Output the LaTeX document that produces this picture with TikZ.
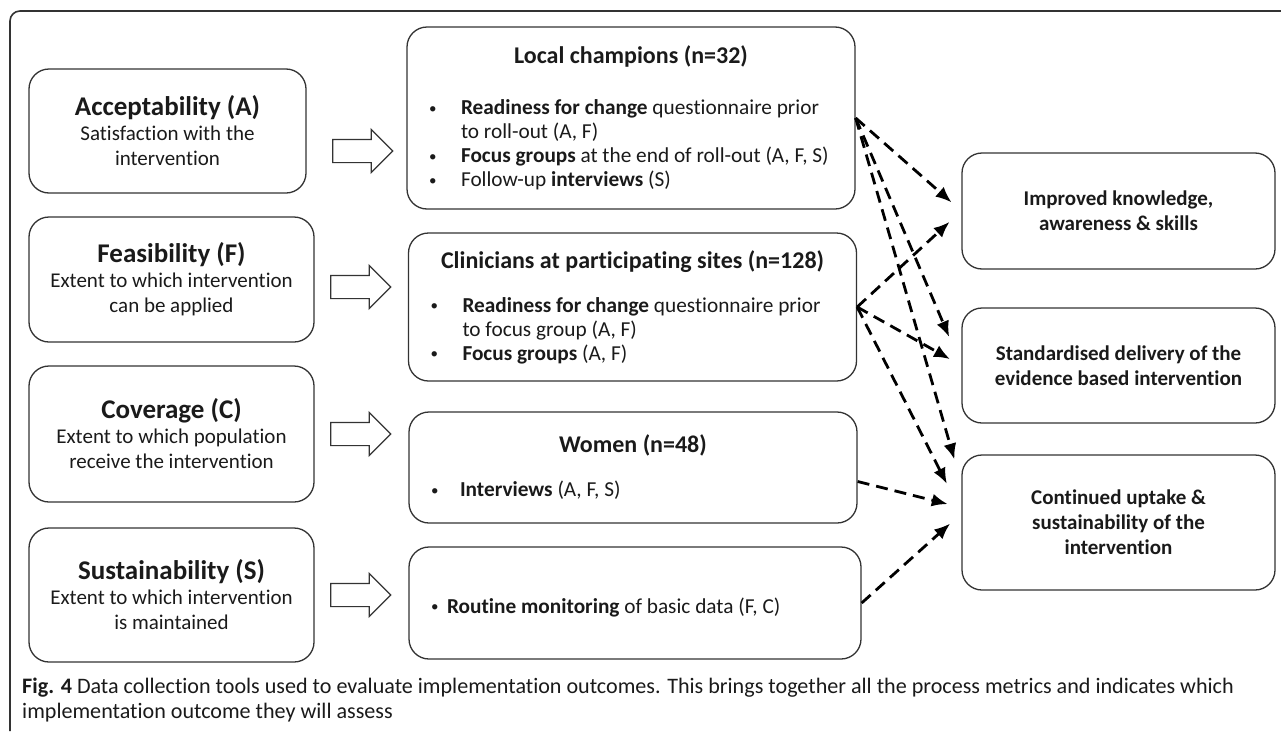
\documentclass[tikz,border=0pt]{standalone}
\usepackage{fontspec}
\setmainfont{Carlito}[RawFeature={-liga;-clig;-calt}]
\usetikzlibrary{shapes,arrows.meta}
\definecolor{boxgray}{HTML}{333333}
\definecolor{inkgray}{HTML}{1A1A1A}
\newcommand\bul[2][32pt]{\par\noindent\hangindent=#1\hangafter=1\makebox[#1][l]{\raisebox{1.5pt}{\fontsize{15}{15}\selectfont\textbullet}}#2}
\tikzset{
    outcome/.style = {draw=boxgray, line width=1.3pt, rounded corners=20pt, minimum width=285pt, align=center, inner sep=0pt, font=\fontsize{21}{25}\selectfont},
    group/.style = {draw=boxgray, line width=1.3pt, rounded corners=20pt, text width=404pt, inner xsep=22pt, inner ysep=0pt, align=flush left, font=\fontsize{21.3}{24}\selectfont},
    result/.style = {draw=boxgray, line width=1.3pt, rounded corners=20pt, minimum width=313pt, align=center, inner sep=0pt, font=\fontsize{21}{25}\selectfont\bfseries},
    fat/.style = {draw=boxgray, line width=1.2pt, single arrow, single arrow head extend=10pt, minimum height=60pt, inner xsep=0pt, inner ysep=11pt},
    link/.style = {-{Latex[length=16pt,width=13pt]}, line width=2.8pt, dash pattern=on 12pt off 7pt},
    frame/.style = {draw=boxgray, line width=1.6pt, rounded corners=10pt},
}

\begin{document}
\begin{tikzpicture}[x=1pt, y=-1pt, text=inkgray]
    \useasboundingbox (0,0) rectangle (1281,731);
    \draw[frame] (10,731) -- (10,11) -- (1281,11);

    % implementation outcomes
    \node[outcome, minimum width=277pt, minimum height=124pt] (accept) at (167.5,131) {{\fontsize{27}{27}\selectfont\bfseries Acceptability (A)}\\Satisfaction with the\\intervention};
    \node[outcome, minimum height=125pt] (feas) at (171.5,279.5) {{\fontsize{27}{27}\selectfont\bfseries Feasibility (F)}\\Extent to which intervention\\can be applied};
    \node[outcome, minimum height=136pt] (cover) at (171.5,434) {{\fontsize{27}{27}\selectfont\bfseries Coverage (C)}\\Extent to which population\\receive the intervention};
    \node[outcome, minimum height=134pt] (sustain) at (171.5,595) {{\fontsize{27}{27}\selectfont\bfseries Sustainability (S)}\\Extent to which intervention\\is maintained};

    \node[fat] (arr-a) at (357,151) {};
    \node[fat] (arr-f) at (355,287) {};
    \node[fat] (arr-c) at (355,434) {};
    \node[fat] (arr-s) at (355,595) {};

    % data collection
    \node[group, minimum height=182pt] (champ) at (631,118) {{\centering\fontsize{24}{25}\selectfont\bfseries Local champions (n=32)\par}\vspace{27pt}
        \bul{\textbf{Readiness for change} questionnaire prior\newline to roll-out (A, F)}
        \bul{\textbf{Focus groups} at the end of roll-out (A, F, S)}
        \bul{Follow-up \textbf{interviews} (S)}\par};
    \node[group, minimum height=148pt] (clin) at (632.5,307) {{\centering\fontsize{24}{25}\selectfont\bfseries Clinicians at participating sites (n=128)\par}\vspace{20pt}
        \bul{\textbf{Readiness for change} questionnaire prior\newline to focus group (A, F)}
        \bul{\textbf{Focus groups} (A, F)}\par};
    \node[group, minimum height=111pt] (women) at (633,467.5) {{\centering\fontsize{24}{25}\selectfont\bfseries Women (n=48)\par}\vspace{20pt}
        \bul[29pt]{\textbf{Interviews} (A, F, S)}\par};
    \node[group, text width=408pt, minimum height=112pt] (routine) at (635,603) {\bul[16pt]{\textbf{Routine monitoring} of basic data (F, C)}\par};

    % expected results
    \node[result, minimum height=116pt] (know) at (1118.5,211) {Improved knowledge,\\awareness \& skills};
    \node[result, minimum height=115pt] (deliv) at (1118.5,365.5) {Standardised delivery of the\\evidence based intervention};
    \node[result, minimum height=135pt] (uptake) at (1118.5,522.5) {Continued uptake \&\\sustainability of the\\intervention};

    \draw[link, shorten >=13pt] (champ.east) -- (know.west);
    \draw[link, shorten >=31pt] (champ.east) -- (deliv.west);
    \draw[link, shorten >=25pt] (champ.east) -- ([yshift=39pt]uptake.west);
    \draw[link, shorten >=16pt] (clin.east) -- (know.west);
    \draw[link, shorten >=13pt] (clin.east) -- (deliv.west);
    \draw[link, shorten >=32pt] (clin.east) -- ([yshift=10pt]uptake.west);
    \draw[link, shorten >=14pt] ([yshift=-14pt]women.east) -- ([yshift=15pt]uptake.west);
    \draw[link, shorten >=15pt] (routine.east) -- ([yshift=9pt]uptake.west);

    \node[anchor=north west, align=left, inner sep=0pt, font=\fontsize{22.1}{25}\selectfont] (caption) at (22,678) {\textbf{Fig. 4} Data collection tools used to evaluate implementation outcomes. This brings together all the process metrics and indicates which\\implementation outcome they will assess};
\end{tikzpicture}
\end{document}
